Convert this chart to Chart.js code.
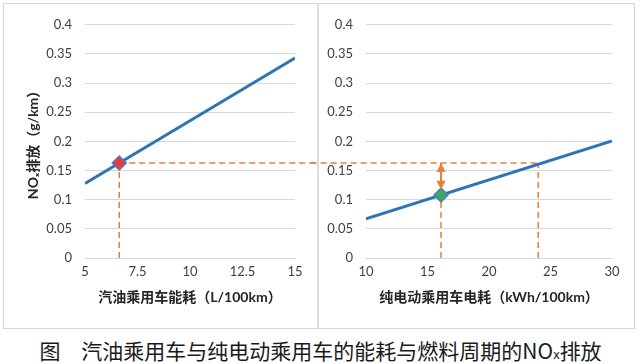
<!DOCTYPE html>
<html>
<head>
<meta charset="utf-8">
<script src="https://cdn.jsdelivr.net/npm/chart.js@4.4.1/dist/chart.umd.min.js"></script>
<style>
  body { margin: 0; background: #fff; }
  #wrap { position: relative; width: 641px; height: 364px; overflow: hidden; }
  #frame { position: absolute; left: 3px; top: 3px; width: 630px; height: 324px; border: 1px solid #d6d6d6; }
  #divider { position: absolute; left: 317px; top: 3px; width: 2px; height: 326px; background: #dcdcdc; }
  #c1 { position: absolute; left: 4px; top: 4px; }
  #c2 { position: absolute; left: 310px; top: 4px; }
  #caption { position: absolute; left: 0; top: 337px; width: 641px; text-align: center;
             font: 21px 'Noto Sans CJK SC', sans-serif; color: #1a1a1a; line-height: 26px; }
  #caption small { font-size: 13px; }
</style>
</head>
<body>
<div id="wrap">
  <div id="frame"></div>
  <div id="divider"></div>
  <canvas id="c1" width="313" height="323"></canvas>
  <canvas id="c2" width="324" height="323"></canvas>
  <div id="caption">图　汽油乘用车与纯电动乘用车的能耗与燃料周期的NO<small>x</small>排放</div>
</div>
<script>
// values
const gasolineX = [5, 15];              // L/100km
const gasolineNOx = [0.128, 0.343];     // g/km
const evX = [10, 30];                   // kWh/100km
const evNOx = [0.067, 0.201];

const gasolineTicks = [5, 7.5, 10, 12.5, 15];
const evTicks = [10, 15, 20, 25, 30];
const noxTicks = [0, 0.05, 0.1, 0.15, 0.2, 0.25, 0.3, 0.35, 0.4];

const gasolinePoint = { x: 6.63, y: 0.163 };
const evPoint = { x: 16.1, y: 0.108 };
const evSameNOx = 24;                   // EV consumption giving the same NOx as the gasoline car
const arrowNOx = [0.117, 0.163];        // bottom / top of the double arrow
const dashReachLeft = 16.1;             // horizontal guide runs past the left panel edge...
const dashReachRight = 5.5;             // ...and starts before the right panel axis

const blue = '#2E75B6';
const orange = '#ED7D31';
const fontFamily = "Lato, 'Noto Sans CJK SC', sans-serif";

const arrowHeads = {
  id: 'arrowHeads',
  afterDatasetsDraw(chart) {
    const ctx = chart.ctx;
    chart.data.datasets.forEach((ds, i) => {
      if (!ds.arrowBoth) return;
      const pts = chart.getDatasetMeta(i).data;
      ctx.save();
      ctx.fillStyle = ds.borderColor;
      [[pts[0], pts[1]], [pts[1], pts[0]]].forEach(([tip, from]) => {
        const a = Math.atan2(tip.y - from.y, tip.x - from.x);
        const len = 9, half = 4.5;
        ctx.beginPath();
        ctx.moveTo(tip.x, tip.y);
        ctx.lineTo(tip.x - len * Math.cos(a) + half * Math.sin(a), tip.y - len * Math.sin(a) - half * Math.cos(a));
        ctx.lineTo(tip.x - len * Math.cos(a) - half * Math.sin(a), tip.y - len * Math.sin(a) + half * Math.cos(a));
        ctx.closePath();
        ctx.fill();
      });
      ctx.restore();
    });
  }
};

function dashed(points, clip) {
  return {
    data: points, borderColor: orange, borderWidth: 1.5, borderDash: [6, 4],
    pointRadius: 0, fill: false, order: 3, clip: clip === false ? false : undefined
  };
}

function options(xMin, xMax, xTicks, xTitle, yWidth, yTitle) {
  return {
    responsive: false,
    animation: false,
    layout: { padding: { top: 15, right: 22, left: 0, bottom: 0 } },
    plugins: { legend: { display: false }, tooltip: { enabled: false } },
    scales: {
      x: {
        type: 'linear', min: xMin, max: xMax,
        afterBuildTicks: s => { s.ticks = xTicks.map(v => ({ value: v })); },
        afterFit: s => { s.height = 69; },
        grid: { display: false, drawTicks: false },
        border: { display: true, color: '#d9d9d9', width: 1 },
        ticks: { padding: 6, color: '#404040', font: { family: fontFamily, size: 13 }, maxRotation: 0,
                 callback: v => String(v) },
        title: { display: true, text: xTitle, color: '#262626', padding: { top: 0, bottom: 21 },
                 font: { family: fontFamily, size: 14, weight: 'bold' } }
      },
      y: {
        min: 0, max: 0.4,
        afterBuildTicks: s => { s.ticks = noxTicks.map(v => ({ value: v })); },
        afterFit: s => { s.width = yWidth; },
        grid: { color: '#d9d9d9', drawTicks: false },
        border: { display: false },
        ticks: { padding: 13, color: '#404040', font: { family: fontFamily, size: 13 },
                 callback: v => String(v) },
        title: { display: !!yTitle, text: yTitle || '', color: '#262626', padding: { top: 21, bottom: 0 },
                 font: { family: fontFamily, size: 14, weight: 'bold' } }
      }
    }
  };
}

new Chart(document.getElementById('c1'), {
  type: 'line',
  data: {
    datasets: [
      { data: [gasolinePoint], showLine: false, pointStyle: 'rectRot', pointRadius: 7,
        backgroundColor: '#F2392F', borderColor: '#4A7CC7', borderWidth: 1.5, order: 0 },
      { data: gasolineX.map((x, i) => ({ x, y: gasolineNOx[i] })), borderColor: blue,
        borderWidth: 3, pointRadius: 0, order: 1 },
      dashed([{ x: gasolinePoint.x, y: 0 }, { x: gasolinePoint.x, y: gasolinePoint.y }]),
      dashed([{ x: gasolinePoint.x, y: gasolinePoint.y }, { x: dashReachLeft, y: gasolinePoint.y }], false)
    ]
  },
  options: options(5, 15, gasolineTicks, '汽油乘用车能耗（L/100km）', 81, 'NOₓ排放（g/km）'),
  plugins: [arrowHeads]
});

new Chart(document.getElementById('c2'), {
  type: 'line',
  data: {
    datasets: [
      { data: [evPoint], showLine: false, pointStyle: 'rectRot', pointRadius: 7,
        backgroundColor: '#3BAA57', borderColor: '#4A7CC7', borderWidth: 1.5, order: 0 },
      { data: evX.map((x, i) => ({ x, y: evNOx[i] })), borderColor: blue,
        borderWidth: 3, pointRadius: 0, order: 1 },
      { data: arrowNOx.map(y => ({ x: evPoint.x, y })), borderColor: orange, borderWidth: 2,
        pointRadius: 0, arrowBoth: true, order: 2 },
      dashed([{ x: evPoint.x, y: 0 }, { x: evPoint.x, y: evPoint.y }]),
      dashed([{ x: evSameNOx, y: 0 }, { x: evSameNOx, y: gasolinePoint.y }]),
      dashed([{ x: dashReachRight, y: gasolinePoint.y }, { x: evSameNOx, y: gasolinePoint.y }], false)
    ]
  },
  options: options(10, 30, evTicks, '纯电动乘用车电耗（kWh/100km）', 56, null),
  plugins: [arrowHeads]
});
</script>
</body>
</html>
